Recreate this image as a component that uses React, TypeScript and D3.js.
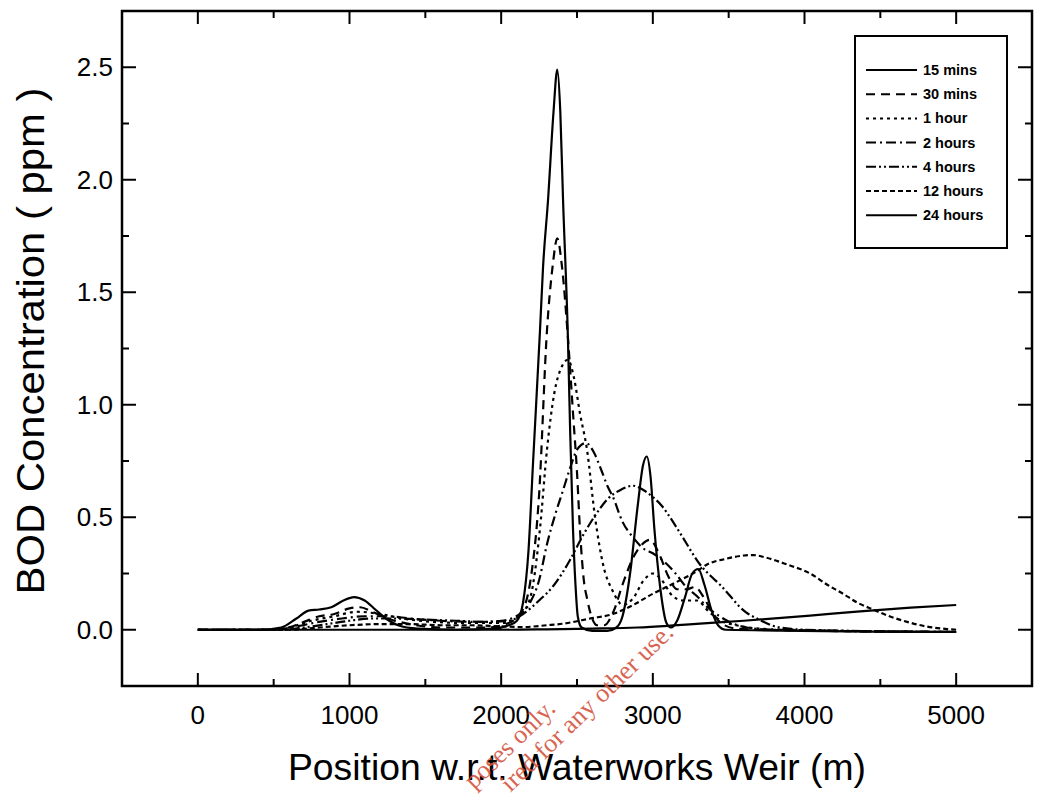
import React from "react";
import * as d3 from "d3";

type Pt = [number, number];

// ---- data (x in metres, y in ppm) ----
const s15min: Pt[] = [[0,0],[400,0],[550,0.01],[650,0.05],[730,0.085],[800,0.09],[880,0.1],[960,0.13],[1030,0.145],[1100,0.13],[1170,0.09],[1240,0.05],[1320,0.02],[1450,0.005],[1700,0],[1950,0.005],[2050,0.02],[2104,0.04],[2144,0.12],[2180,0.35],[2210,0.74],[2256,1.33],[2276,1.61],[2309,1.91],[2345,2.3],[2370,2.49],[2390,2.3],[2408,1.91],[2440,1.3],[2455,0.88],[2474,0.44],[2490,0.2],[2505,0.06],[2530,0.01],[2600,-0.005],[2700,-0.005],[2760,0.01],[2800,0.06],[2850,0.25],[2900,0.55],[2935,0.73],[2960,0.77],[2985,0.68],[3010,0.45],[3050,0.18],[3090,0.03],[3120,0.01],[3160,0.04],[3210,0.14],[3260,0.25],[3300,0.27],[3340,0.2],[3390,0.08],[3430,0.02],[3480,0],[5000,-0.01]];
const s30min: Pt[] = [[0,0],[450,0],[600,0.01],[700,0.035],[800,0.06],[900,0.07],[1000,0.095],[1070,0.1],[1150,0.08],[1250,0.05],[1400,0.025],[1600,0.01],[1900,0.01],[2050,0.03],[2150,0.1],[2200,0.25],[2250,0.6],[2302,1.33],[2340,1.62],[2370,1.74],[2400,1.62],[2440,1.3],[2475,0.95],[2500,0.7],[2520,0.44],[2545,0.22],[2566,0.14],[2600,0.05],[2632,0.02],[2680,0.02],[2740,0.08],[2800,0.2],[2870,0.32],[2930,0.38],[2980,0.4],[3040,0.34],[3100,0.24],[3160,0.18],[3220,0.18],[3280,0.19],[3330,0.15],[3390,0.08],[3450,0.03],[3550,0.005],[3700,0],[5000,-0.01]];
const s1hour: Pt[] = [[0,0],[450,0],[600,0.01],[750,0.04],[900,0.06],[1050,0.08],[1200,0.07],[1350,0.05],[1550,0.035],[1800,0.03],[2000,0.03],[2100,0.05],[2150,0.08],[2210,0.2],[2256,0.45],[2302,0.8],[2350,1.05],[2400,1.17],[2440,1.2],[2480,1.12],[2520,0.96],[2566,0.8],[2619,0.5],[2672,0.29],[2737,0.17],[2803,0.11],[2870,0.14],[2940,0.22],[3000,0.25],[3060,0.22],[3130,0.15],[3200,0.13],[3290,0.13],[3370,0.08],[3450,0.04],[3550,0.02],[3700,0.005],[3900,0],[5000,-0.01]];
const s2hours: Pt[] = [[0,0],[500,0],[650,0.015],[800,0.035],[950,0.05],[1100,0.06],[1250,0.06],[1400,0.05],[1600,0.04],[1850,0.035],[2000,0.04],[2100,0.06],[2190,0.12],[2250,0.22],[2302,0.38],[2360,0.52],[2408,0.62],[2460,0.73],[2500,0.8],[2560,0.83],[2610,0.79],[2660,0.71],[2700,0.64],[2737,0.59],[2800,0.48],[2870,0.41],[2940,0.36],[3000,0.34],[3080,0.3],[3150,0.25],[3220,0.19],[3290,0.15],[3360,0.1],[3440,0.06],[3520,0.03],[3620,0.01],[3800,0],[5000,-0.01]];
const s4hours: Pt[] = [[0,0],[550,0],[700,0.01],[850,0.025],[1000,0.04],[1150,0.05],[1300,0.05],[1500,0.045],[1700,0.04],[1900,0.035],[2050,0.04],[2144,0.07],[2250,0.13],[2350,0.2],[2454,0.31],[2540,0.42],[2632,0.52],[2700,0.58],[2784,0.62],[2870,0.64],[2940,0.62],[3000,0.59],[3060,0.55],[3113,0.5],[3170,0.44],[3225,0.38],[3270,0.33],[3311,0.29],[3380,0.24],[3443,0.2],[3510,0.15],[3575,0.1],[3630,0.07],[3687,0.05],[3780,0.02],[3900,0.005],[4000,0],[5000,-0.01]];
const s12hours: Pt[] = [[0,0],[600,0],[800,0.01],[1000,0.02],[1200,0.025],[1400,0.025],[1600,0.02],[1800,0.02],[2000,0.015],[2144,0.012],[2300,0.02],[2408,0.027],[2586,0.05],[2737,0.07],[2870,0.11],[3000,0.16],[3150,0.21],[3290,0.26],[3357,0.29],[3480,0.315],[3600,0.33],[3661,0.332],[3750,0.32],[3885,0.29],[4037,0.25],[4150,0.2],[4254,0.16],[4350,0.12],[4452,0.09],[4560,0.06],[4677,0.035],[4800,0.015],[4940,0.003],[5000,0]];
const s24hours: Pt[] = [[0,0],[1500,0],[2000,0],[2300,0.002],[2600,0.005],[2900,0.01],[3113,0.018],[3311,0.027],[3600,0.04],[4037,0.063],[4367,0.082],[4700,0.098],[5000,0.11]];

const seriesNames = ["15 mins", "30 mins", "1 hour", "2 hours", "4 hours", "12 hours", "24 hours"];
const seriesData = [s15min, s30min, s1hour, s2hours, s4hours, s12hours, s24hours];
const seriesDash = ["", "9,6", "3,4", "10,4,2,4", "10,3,2,3,2,3", "5,3", ""];

const xMajorTicks = [0, 1000, 2000, 3000, 4000, 5000];
const xMinorTicks = [500, 1500, 2500, 3500, 4500];
const yMajorTicks = [0, 0.5, 1.0, 1.5, 2.0, 2.5];
const yMinorTicks = [0.25, 0.75, 1.25, 1.75, 2.25];

const xTitle = "Position w.r.t. Waterworks Weir (m)";
const yTitle = "BOD Concentration ( ppm )";
const watermarkLines = ["poses only.", "ired for any other use."];

const FONT = "'Liberation Sans', Arial, Helvetica, sans-serif";

export default function App() {
  const W = 1038, H = 796;
  const L = 122, R = 1032, T = 11, B = 686;
  const x = d3.scaleLinear().domain([-500, 5500]).range([L, R]);
  const y = d3.scaleLinear().domain([-0.25, 2.75]).range([B, T]);
  const line = d3.line<Pt>().x(d => x(d[0])).y(d => y(d[1])).curve(d3.curveMonotoneX);

  const legendX = 855, legendY = 36, legendW = 152, legendH = 212;
  const legendRow0 = 70, legendStep = 24.2;

  return (
    <svg width={W} height={H} style={{ position: "absolute", left: 0, top: 0, background: "#fff" }}>
      <rect x={0} y={0} width={W} height={H} fill="#fff" />
      {/* curves */}
      <g fill="none" stroke="#000" strokeWidth={2.2} strokeLinejoin="round">
        {seriesData.map((s, i) => (
          <path key={i} d={line(s) || ""} strokeDasharray={seriesDash[i] || undefined} />
        ))}
      </g>
      {/* frame */}
      <rect x={L} y={T} width={R - L} height={B - T} fill="none" stroke="#000" strokeWidth={2.5} />
      {/* ticks */}
      <g stroke="#000" strokeWidth={2}>
        {xMajorTicks.map(t => (
          <g key={"xM" + t}>
            <line x1={x(t)} x2={x(t)} y1={B} y2={B - 13} />
            <line x1={x(t)} x2={x(t)} y1={T} y2={T + 13} />
          </g>
        ))}
        {xMinorTicks.map(t => (
          <g key={"xm" + t}>
            <line x1={x(t)} x2={x(t)} y1={B} y2={B - 7} />
            <line x1={x(t)} x2={x(t)} y1={T} y2={T + 7} />
          </g>
        ))}
        {yMajorTicks.map(t => (
          <g key={"yM" + t}>
            <line x1={L} x2={L + 14} y1={y(t)} y2={y(t)} />
            <line x1={R} x2={R - 14} y1={y(t)} y2={y(t)} />
          </g>
        ))}
        {yMinorTicks.map(t => (
          <g key={"ym" + t}>
            <line x1={L} x2={L + 7} y1={y(t)} y2={y(t)} />
            <line x1={R} x2={R - 7} y1={y(t)} y2={y(t)} />
          </g>
        ))}
      </g>
      {/* tick labels */}
      <g fontFamily={FONT} fill="#000">
        {xMajorTicks.map(t => (
          <text key={"xl" + t} x={x(t)} y={724} fontSize={26} textAnchor="middle">{d3.format("d")(t)}</text>
        ))}
        {yMajorTicks.map(t => (
          <text key={"yl" + t} x={113} y={y(t) + 9} fontSize={26} textAnchor="end">{d3.format(".1f")(t)}</text>
        ))}
      </g>
      {/* axis titles */}
      <text x={577} y={780} fontFamily={FONT} fontSize={37} textAnchor="middle" textLength={578} lengthAdjust="spacingAndGlyphs">{xTitle}</text>
      <text transform={`translate(44,341) rotate(-90)`} fontFamily={FONT} fontSize={39} textAnchor="middle" textLength={507} lengthAdjust="spacingAndGlyphs">{yTitle}</text>
      {/* legend */}
      <rect x={legendX} y={legendY} width={legendW} height={legendH} fill="#fff" stroke="#000" strokeWidth={2} />
      {seriesNames.map((n, i) => {
        const yy = legendRow0 + i * legendStep;
        return (
          <g key={n}>
            <line x1={866} x2={917} y1={yy} y2={yy} stroke="#000" strokeWidth={2} strokeDasharray={seriesDash[i] || undefined} />
            <text x={923} y={yy + 5} fontFamily={FONT} fontSize={14.5} fontWeight="bold">{n}</text>
          </g>
        );
      })}
      {/* watermark (scan overlay) */}
      <g fill="#d4553f" fontFamily="'Liberation Serif', 'Times New Roman', serif" fontSize={26} opacity={0.9}>
        <text transform="translate(557,710) rotate(-44)" textAnchor="end">{watermarkLines[0]}</text>
        <text transform="translate(675,634) rotate(-44)" textAnchor="end">{watermarkLines[1]}</text>
      </g>
    </svg>
  );
}
